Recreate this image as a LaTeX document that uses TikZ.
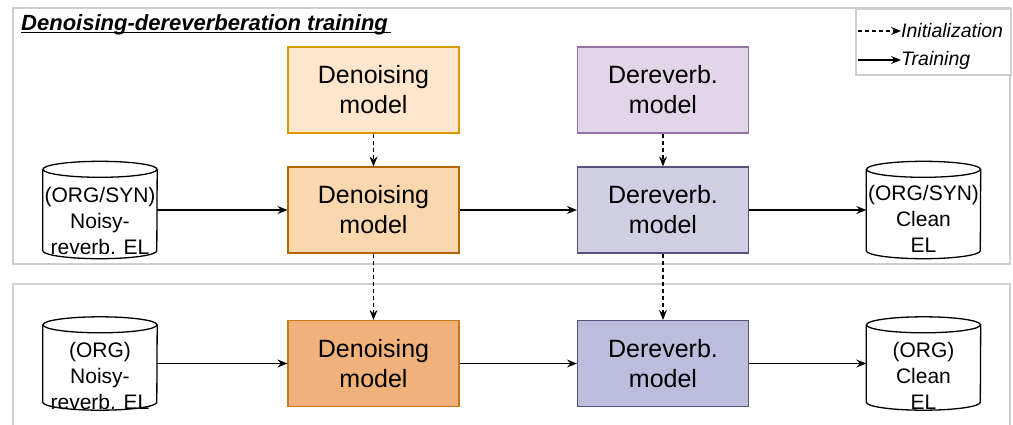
\documentclass[tikz,border=0pt]{standalone}
\usepackage{fontspec}
\setmainfont{Liberation Sans}
\usetikzlibrary{arrows.meta,calc}

\definecolor{framegray}{HTML}{CFCFCF}
\definecolor{dnInitFill}{HTML}{FFE6CC}
\definecolor{dnInitLine}{HTML}{D79B00}
\definecolor{dnTopFill}{HTML}{FAD7AC}
\definecolor{dnTopLine}{HTML}{B46504}
\definecolor{dnBotFill}{HTML}{F0B27A}
\definecolor{dnBotLine}{HTML}{C8781E}
\definecolor{drInitFill}{HTML}{E1D5E7}
\definecolor{drInitLine}{HTML}{9673A6}
\definecolor{drTopFill}{HTML}{D0CEE2}
\definecolor{drTopLine}{HTML}{56517E}
\definecolor{drBotFill}{HTML}{BCBCDC}
\definecolor{drBotLine}{HTML}{56517E}

% database drum drawn around a named body node
\newcommand\drumshape[1]{%
  \draw[drumline] (#1.north west) -- (#1.south west)
    arc[start angle=180, end angle=0, x radius=57, y radius=8]
    -- (#1.north east);
  \draw[drumline] (#1.north) ellipse[x radius=57, y radius=8];
}

\begin{document}
\begin{tikzpicture}[x=1pt, y=-1pt,
  panel/.style={draw=framegray, line width=2.6pt, fill=white},
  modelbox/.style={draw, line width=1.2pt, minimum width=171pt, minimum height=86pt,
    align=center, inner sep=0pt, font=\fontsize{25}{30}\selectfont},
  drumbody/.style={minimum width=114pt, inner sep=0pt},
  drumline/.style={line width=1.3pt, fill=white},
  drumtext/.style={align=center, inner sep=0pt, font=\fontsize{21}{26}\selectfont},
  trainarrow/.style={line width=1.2pt, -{Stealth[length=10pt, width=8pt, inset=3.5pt]}},
  initarrow/.style={trainarrow, dash pattern=on 4pt off 3pt},
  legendtext/.style={anchor=west, inner sep=0pt, font=\fontsize{19.5}{22}\selectfont\itshape},
]
\useasboundingbox (0,0) rectangle (1013,424);

% panels
\draw[panel] (13,8) rectangle (1010,264);
\draw[panel] (13,284) rectangle (1010,440);

% title
\node[anchor=base west, inner sep=0pt, font=\fontsize{22}{26}\selectfont\bfseries\itshape]
  (title) at (21,30) {Denoising-dereverberation training};
\draw[line width=1.3pt] ($(title.base west)+(0,2.5)$) -- ($(title.base east)+(3,2.5)$);

% legend
\node[draw=framegray, line width=2pt, fill=white, minimum width=155pt, minimum height=66pt,
  anchor=north west, inner sep=0pt] (legend) at (855,8) {};
\coordinate (legA) at (858,31);
\node[legendtext] (legInit) at (901,31) {Initialization};
\coordinate (legB) at (858,60);
\node[legendtext] (legTrain) at (901,60) {Training};
\draw[initarrow] (legA) -- (legInit.west);
\draw[trainarrow] (legB) -- (legTrain.west);

% model boxes
\node[modelbox, fill=dnInitFill, draw=dnInitLine] (dnInit) at (373.5,90) {Denoising\\model};
\node[modelbox, fill=drInitFill, draw=drInitLine] (drInit) at (663,90) {Dereverb.\\model};
\node[modelbox, fill=dnTopFill, draw=dnTopLine] (dnTop) at (373.5,210) {Denoising\\model};
\node[modelbox, fill=drTopFill, draw=drTopLine] (drTop) at (663,210) {Dereverb.\\model};
\node[modelbox, fill=dnBotFill, draw=dnBotLine] (dnBot) at (373.5,363.5) {Denoising\\model};
\node[modelbox, fill=drBotFill, draw=drBotLine] (drBot) at (663,363.5) {Dereverb.\\model};

% data drums
\node[drumbody, minimum height=81pt] (inTop) at (100,210) {};
\node[drumbody, minimum height=81pt] (outTop) at (923.5,210) {};
\node[drumbody, minimum height=77pt] (inBot) at (100,363.5) {};
\node[drumbody, minimum height=77pt] (outBot) at (923.5,363.5) {};
\drumshape{inTop}
\drumshape{outTop}
\drumshape{inBot}
\drumshape{outBot}
\node[drumtext] (inTopText) at ($(inTop.center)+(0,11)$) {(ORG/SYN)\\Noisy-\\reverb. EL};
\node[drumtext] (outTopText) at ($(outTop.center)+(0,9)$) {(ORG/SYN)\\Clean\\EL};
\node[drumtext] (inBotText) at ($(inBot.center)+(0,12)$) {(ORG)\\Noisy-\\reverb. EL};
\node[drumtext] (outBotText) at ($(outBot.center)+(0,12)$) {(ORG)\\Clean\\EL};

% training flow
\draw[trainarrow] (inTop.east) -- (dnTop.west);
\draw[trainarrow] (dnTop.east) -- (drTop.west);
\draw[trainarrow] (drTop.east) -- (outTop.west);
\draw[trainarrow] (inBot.east) -- (dnBot.west);
\draw[trainarrow] (dnBot.east) -- (drBot.west);
\draw[trainarrow] (drBot.east) -- (outBot.west);

% initialisation
\draw[initarrow] (dnInit.south) -- (dnTop.north);
\draw[initarrow] (drInit.south) -- (drTop.north);
\draw[initarrow] (dnTop.south) -- (dnBot.north);
\draw[initarrow] (drTop.south) -- (drBot.north);
\end{tikzpicture}
\end{document}
